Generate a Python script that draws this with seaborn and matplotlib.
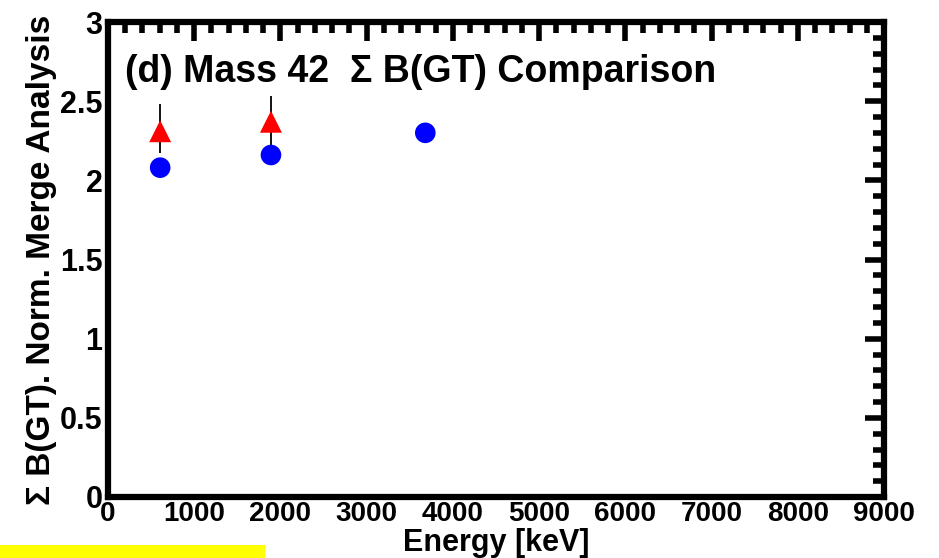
import matplotlib
matplotlib.use("Agg")
import matplotlib.pyplot as plt
import seaborn as sns
import pandas as pd
from matplotlib.ticker import MultipleLocator
from matplotlib.patches import Rectangle

# Data
blue_energy = [605, 1890, 3680]
blue_bgt = [2.08, 2.16, 2.30]
red_energy = [605, 1890]
red_bgt = [2.31, 2.37]
red_err_low = [0.14, 0.17]
red_err_high = [0.17, 0.16]

x_ticks = [0, 1000, 2000, 3000, 4000, 5000, 6000, 7000, 8000, 9000]
y_ticks = [0, 0.5, 1, 1.5, 2, 2.5, 3]
y_tick_labels = ["0", "0.5", "1", "1.5", "2", "2.5", "3"]

sns.set_style("white")
plt.rcParams['font.family'] = ['Liberation Sans', 'DejaVu Sans']
plt.rcParams['text.color'] = 'black'
plt.rcParams['axes.labelcolor'] = 'black'
plt.rcParams['xtick.color'] = 'black'
plt.rcParams['ytick.color'] = 'black'

fig = plt.figure(figsize=(9.39, 5.58), dpi=100)
ax = fig.add_axes([108/939, 1-497/558, (884-108)/939, (497-22)/558])

df_blue = pd.DataFrame({"E": blue_energy, "B": blue_bgt})
df_red = pd.DataFrame({"E": red_energy, "B": red_bgt})

ax.errorbar(red_energy, red_bgt, yerr=[red_err_low, red_err_high], fmt='none',
            ecolor='black', elinewidth=1.3, capsize=0, zorder=2)
sns.scatterplot(data=df_blue, x="E", y="B", ax=ax, color="#0000ff", marker="o",
                s=220, edgecolor="none", zorder=3)
sns.scatterplot(data=df_red, x="E", y="B", ax=ax, color="#ff0000", marker="^",
                s=250, edgecolor="none", zorder=3)

ax.set_xlim(0, 9000)
ax.set_ylim(0, 3)
ax.set_xticks(x_ticks)
ax.set_yticks(y_ticks)
ax.set_yticklabels(y_tick_labels)
ax.xaxis.set_minor_locator(MultipleLocator(200))
ax.yaxis.set_minor_locator(MultipleLocator(0.1))

for sp in ax.spines.values():
    sp.set_linewidth(4.5)
    sp.set_color('black')

ax.tick_params(which='major', direction='in', length=14, width=4, top=True, right=True,
               colors='black')
ax.tick_params(which='minor', direction='in', length=8, width=4, top=True, right=True,
               colors='black')
ax.tick_params(axis='x', which='major', pad=3)
ax.tick_params(axis='y', which='major', pad=4)

for lab in ax.get_xticklabels():
    lab.set_fontweight('bold')
    lab.set_fontsize(20)
for lab in ax.get_yticklabels():
    lab.set_fontweight('bold')
    lab.set_fontsize(22)

ax.set_xlabel("")
fig.text(496/939, 1-543/558, "Energy [keV]", fontsize=22, fontweight='bold',
         ha='center', va='center', color='black')
ax.set_ylabel("Σ B(GT). Norm. Merge Analysis", fontsize=24, fontweight='bold', labelpad=2,
              color='black')

ax.text(17/776, 1-(72-22)/475, "(d) Mass 42  Σ B(GT) Comparison", transform=ax.transAxes,
        fontsize=27, fontweight='bold', ha='left', va='center', color='black')

fig.patches.append(Rectangle((0, 0), 265/939, 13/558, transform=fig.transFigure,
                             facecolor='#ffff00', edgecolor='none'))

fig.savefig("out.png", dpi=100)
